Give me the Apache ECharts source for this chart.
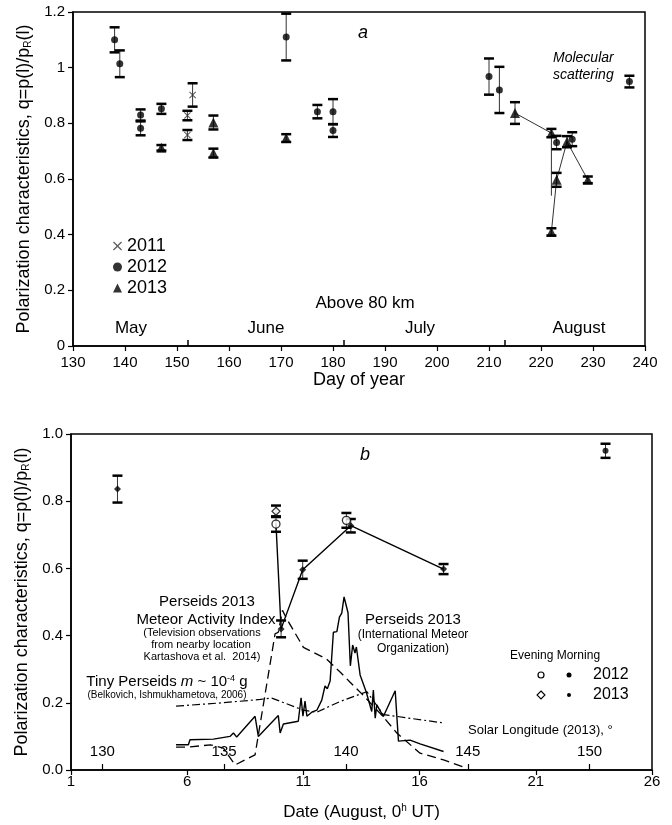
<!DOCTYPE html>
<html>
<head>
<meta charset="utf-8">
<script src="https://cdn.jsdelivr.net/npm/echarts@6/dist/echarts.min.js"></script>
<style>
html,body{margin:0;padding:0;background:#fff;}
#chart{width:672px;height:825px;}
</style>
</head>
<body>
<div id="chart"></div>
<script>
// ---------- Panel a: day of year ----------
const xTicksA = [130, 240, 10];
const monthTickDays = [152, 182, 213];
const days2011 = [152, 152, 153];
const q2011 = [0.828, 0.758, 0.902];
const err2011 = [0.017, 0.018, 0.042];

const days2012 = [138, 139, 143, 143, 147, 171, 177, 180, 180, 210, 212, 223, 226, 237];
const q2012 = [1.10, 1.014, 0.83, 0.782, 0.852, 1.11, 0.842, 0.842, 0.774, 0.968, 0.92, 0.731, 0.743, 0.95];
const err2012 = [0.045, 0.048, 0.02, 0.025, 0.018, 0.084, 0.024, 0.045, 0.023, 0.065, 0.083, 0.024, 0.025, 0.021];

const days2013 = [147, 157, 157, 171, 215, 222, 222, 223, 225, 229];
const q2013 = [0.712, 0.803, 0.693, 0.747, 0.837, 0.765, 0.410, 0.597, 0.734, 0.597];
const err2013 = [0.01, 0.025, 0.016, 0.014, 0.039, 0.015, 0.013, 0.025, 0.02, 0.012];

const trendADays = [215, 222, 222];
const trendAQ = [0.837, 0.765, 0.54];
const trendBDays = [222, 223, 225, 229];
const trendBQ = [0.41, 0.597, 0.734, 0.597];

// ---------- Panel b: date in August ----------
const dateTicks = [1, 6, 11, 16, 21, 26];
const solarTicks = [130, 135, 140, 145, 150];
const solarRange = [128.715, 152.56];

const eve2012Date = [9.82, 12.85];
const eve2012Q = [0.732, 0.743];
const eve2012Err = [0.023, 0.022];
const eve2013Date = [9.82];
const eve2013Q = [0.770];
const eve2013Err = [0.017];
const morn2012Date = [24.0];
const morn2012Q = [0.95];
const morn2012Err = [0.021];
const morn2013Date = [3.0, 10.04, 10.97, 13.04, 17.03];
const morn2013Q = [0.836, 0.42, 0.596, 0.727, 0.598];
const morn2013Err = [0.04, 0.025, 0.027, 0.02, 0.015];

const trendBotDate = [9.82, 10.04, 10.97, 13.04, 17.03];
const trendBotQ = [0.732, 0.42, 0.596, 0.727, 0.598];

const imoDate = [5.52,6.05,6.12,7.13,7.84,7.99,8.13,8.92,9.06,9.92,10.0,10.14,10.78,10.90,10.98,11.07,11.15,11.36,11.58,11.79,11.93,12.03,12.15,12.29,12.44,12.55,12.65,12.75,12.92,13.02,13.12,13.22,13.28,13.44,13.70,13.94,14.01,14.09,14.16,14.44,14.95,15.09,15.59,16.02,17.03];
const imoQ = [0.075,0.075,0.090,0.092,0.100,0.110,0.098,0.160,0.100,0.162,0.110,0.137,0.145,0.215,0.160,0.205,0.160,0.172,0.178,0.208,0.250,0.242,0.265,0.410,0.412,0.455,0.467,0.515,0.468,0.310,0.372,0.348,0.366,0.283,0.233,0.174,0.238,0.154,0.194,0.159,0.236,0.086,0.089,0.078,0.055];

const tvDate = [5.52, 6.05, 7.0, 7.56, 8.06, 8.92, 9.78, 9.92, 10.1, 10.28, 11.0, 12.0, 12.6, 13.0, 13.58, 14.44, 15.02, 16.02, 17.03, 18.03];
const tvQ = [0.068, 0.068, 0.075, 0.065, 0.015, 0.045, 0.405, 0.41, 0.475, 0.45, 0.365, 0.33, 0.29, 0.262, 0.222, 0.158, 0.11, 0.05, 0.03, 0.005];

const tinyDate = [5.52, 7.5, 9.14, 9.64, 11.0, 11.58, 12.58, 13.73, 14.44, 17.03];
const tinyQ = [0.19, 0.20, 0.21, 0.214, 0.178, 0.172, 0.204, 0.233, 0.165, 0.14];

// ---------- helpers ----------
const FONT = "'Liberation Sans', Arial, sans-serif";
const zip = (a, b) => a.map((v, i) => [v, b[i]]);
const zip3 = (a, b, c) => a.map((v, i) => [v, b[i], c[i]]);
const X_PATH = 'path://M0,1L1,0L5,4L9,0L10,1L6,5L10,9L9,10L5,6L1,10L0,9L4,5Z';

function errRender(params, api) {
  const x = api.value(0), y = api.value(1), e = api.value(2);
  const t = api.coord([x, y + e]);
  const b = api.coord([x, y - e]);
  const hw = 5;
  return {
    type: 'group',
    children: [
      {type: 'line', shape: {x1: t[0], y1: t[1], x2: b[0], y2: b[1]}, style: {stroke: '#333', lineWidth: 1}},
      {type: 'line', shape: {x1: t[0] - hw, y1: t[1], x2: t[0] + hw, y2: t[1]}, style: {stroke: '#000', lineWidth: 2.5}},
      {type: 'line', shape: {x1: b[0] - hw, y1: b[1], x2: b[0] + hw, y2: b[1]}, style: {stroke: '#000', lineWidth: 2.5}}
    ]
  };
}
function errSeries(data, xi, yi) {
  return {type: 'custom', xAxisIndex: xi, yAxisIndex: yi, renderItem: errRender, data: data,
    encode: {x: 0, y: 1}, silent: true, z: 3, clip: false};
}
function lineSeries(data, xi, yi, type, width, color) {
  return {type: 'line', xAxisIndex: xi, yAxisIndex: yi, data: data, showSymbol: false, symbol: 'none',
    lineStyle: {color: color || '#000', width: width, type: type}, z: 2, silent: true, animation: false};
}

const chart = echarts.init(document.getElementById('chart'), null, {renderer: 'canvas'});
const axisLine = {show: true, lineStyle: {color: '#000', width: 1.5}};
const tickOut = {show: true, inside: false, length: 5, lineStyle: {color: '#000', width: 1.2}};
const lblStyle = {color: '#000', fontSize: 15, fontFamily: FONT};
const yName = 'Polarization characteristics, q=p(l)/p{sub|R}(l)';
const yNameStyle = {fontSize: 18, color: '#000', fontFamily: FONT,
  rich: {sub: {fontSize: 10, color: '#000', fontFamily: FONT, verticalAlign: 'bottom', padding: [6, 0, 0, 0]}}};

const option = {
  animation: false,
  backgroundColor: '#fff',
  textStyle: {fontFamily: FONT, color: '#000'},
  grid: [
    {left: 73, right: 27, top: 12, height: 334, show: true, borderColor: '#000', borderWidth: 1.5, backgroundColor: 'transparent'},
    {left: 71, right: 20, top: 434, height: 336, show: true, borderColor: '#000', borderWidth: 1.5, backgroundColor: 'transparent'}
  ],
  xAxis: [
    {type: 'value', gridIndex: 0, min: xTicksA[0], max: xTicksA[1], interval: xTicksA[2],
      axisLine: axisLine, axisTick: tickOut, splitLine: {show: false},
      axisLabel: Object.assign({margin: 9}, lblStyle),
      name: 'Day of year', nameLocation: 'middle', nameGap: 25,
      nameTextStyle: {fontSize: 18, color: '#000', fontFamily: FONT}},
    {type: 'value', gridIndex: 0, min: xTicksA[0], max: xTicksA[1], position: 'bottom',
      axisLine: {show: false}, splitLine: {show: false},
      axisTick: {show: true, inside: true, length: 6, customValues: monthTickDays, lineStyle: {color: '#000', width: 1.5}},
      axisLabel: {show: false}},
    {type: 'value', gridIndex: 1, min: dateTicks[0], max: dateTicks[dateTicks.length - 1],
      axisLine: axisLine, splitLine: {show: false},
      axisTick: Object.assign({customValues: dateTicks}, tickOut),
      axisLabel: Object.assign({margin: 4, customValues: dateTicks}, lblStyle),
      name: 'Date (August, 0{sup|h} UT)', nameLocation: 'middle', nameGap: 33,
      nameTextStyle: {fontSize: 17, color: '#000', fontFamily: FONT,
        rich: {sup: {fontSize: 10, verticalAlign: 'top', padding: [0, 0, 8, 0], color: '#000', fontFamily: FONT}}}},
    {type: 'value', gridIndex: 1, min: solarRange[0], max: solarRange[1], position: 'bottom',
      axisLine: {show: false}, splitLine: {show: false},
      axisTick: {show: true, inside: true, length: 6, customValues: solarTicks, lineStyle: {color: '#000', width: 1.2}},
      axisLabel: Object.assign({inside: true, margin: 11, customValues: solarTicks}, lblStyle)}
  ],
  yAxis: [
    {type: 'value', gridIndex: 0, min: 0, max: 1.2, interval: 0.2,
      axisLine: axisLine, axisTick: tickOut, splitLine: {show: false},
      axisLabel: Object.assign({margin: 8}, lblStyle),
      name: yName, nameLocation: 'middle', nameGap: 40, nameTextStyle: yNameStyle},
    {type: 'value', gridIndex: 1, min: 0, max: 1.0, interval: 0.2,
      axisLine: axisLine, axisTick: tickOut, splitLine: {show: false},
      axisLabel: Object.assign({margin: 8, formatter: v => v.toFixed(1)}, lblStyle),
      name: yName, nameLocation: 'middle', nameGap: 39, nameTextStyle: yNameStyle}
  ],
  legend: {
    orient: 'vertical', left: 108, top: 232, itemWidth: 9, itemHeight: 9, itemGap: 3,
    selectedMode: false,
    textStyle: {fontSize: 18, color: '#000', fontFamily: FONT},
    data: [
      {name: '2011', icon: X_PATH},
      {name: '2012', icon: 'circle'},
      {name: '2013', icon: 'triangle'}
    ]
  },
  series: [
    // panel a
    lineSeries(zip(trendADays, trendAQ), 0, 0, 'solid', 1, '#333'),
    lineSeries(zip(trendBDays, trendBQ), 0, 0, 'solid', 1, '#333'),
    errSeries(zip3(days2011, q2011, err2011), 0, 0),
    errSeries(zip3(days2012, q2012, err2012), 0, 0),
    errSeries(zip3(days2013, q2013, err2013), 0, 0),
    {name: '2011', type: 'scatter', xAxisIndex: 0, yAxisIndex: 0, data: zip(days2011, q2011),
      symbol: X_PATH, symbolSize: 7, itemStyle: {color: '#333'}, z: 5},
    {name: '2012', type: 'scatter', xAxisIndex: 0, yAxisIndex: 0, data: zip(days2012, q2012),
      symbol: 'circle', symbolSize: 7, itemStyle: {color: '#000'}, z: 5},
    {name: '2013', type: 'scatter', xAxisIndex: 0, yAxisIndex: 0, data: zip(days2013, q2013),
      symbol: 'triangle', symbolSize: 10, itemStyle: {color: '#000'}, z: 5},
    // panel b
    lineSeries(zip(imoDate, imoQ), 2, 1, 'solid', 1.4),
    lineSeries(zip(tvDate, tvQ), 2, 1, [9, 5], 1.3),
    lineSeries(zip(tinyDate, tinyQ), 2, 1, [8, 3, 2, 3], 1.2),
    lineSeries(zip(trendBotDate, trendBotQ), 2, 1, 'solid', 1.4),
    errSeries(zip3(eve2012Date, eve2012Q, eve2012Err), 2, 1),
    errSeries(zip3(eve2013Date, eve2013Q, eve2013Err), 2, 1),
    errSeries(zip3(morn2012Date, morn2012Q, morn2012Err), 2, 1),
    errSeries(zip3(morn2013Date, morn2013Q, morn2013Err), 2, 1),
    {name: 'Evening 2012', type: 'scatter', xAxisIndex: 2, yAxisIndex: 1, data: zip(eve2012Date, eve2012Q),
      symbol: 'circle', symbolSize: 8, itemStyle: {color: '#fff', borderColor: '#000', borderWidth: 1.3}, z: 5},
    {name: 'Evening 2013', type: 'scatter', xAxisIndex: 2, yAxisIndex: 1, data: zip(eve2013Date, eve2013Q),
      symbol: 'diamond', symbolSize: 8, itemStyle: {color: '#fff', borderColor: '#000', borderWidth: 1.2}, z: 5},
    {name: 'Morning 2012', type: 'scatter', xAxisIndex: 2, yAxisIndex: 1, data: zip(morn2012Date, morn2012Q),
      symbol: 'circle', symbolSize: 6, itemStyle: {color: '#000'}, z: 5},
    {name: 'Morning 2013', type: 'scatter', xAxisIndex: 2, yAxisIndex: 1, data: zip(morn2013Date, morn2013Q),
      symbol: 'diamond', symbolSize: 7, itemStyle: {color: '#000'}, z: 5}
  ],
  graphic: [
    {type: 'text', x: 363, y: 33, style: {text: 'a', fontSize: 18, fontStyle: 'italic', fontFamily: FONT, fill: '#000', align: 'center', verticalAlign: 'middle'}},
    {type: 'text', x: 553, y: 58, style: {text: 'Molecular', fontSize: 14, fontStyle: 'italic', fontFamily: FONT, fill: '#000', align: 'left', verticalAlign: 'middle'}},
    {type: 'text', x: 553, y: 75, style: {text: 'scattering', fontSize: 14, fontStyle: 'italic', fontFamily: FONT, fill: '#000', align: 'left', verticalAlign: 'middle'}},
    {type: 'text', x: 365, y: 303, style: {text: 'Above 80 km', fontSize: 17, fontFamily: FONT, fill: '#000', align: 'center', verticalAlign: 'middle'}},
    {type: 'text', x: 131, y: 328, style: {text: 'May', fontSize: 17, fontFamily: FONT, fill: '#000', align: 'center', verticalAlign: 'middle'}},
    {type: 'text', x: 266, y: 328, style: {text: 'June', fontSize: 17, fontFamily: FONT, fill: '#000', align: 'center', verticalAlign: 'middle'}},
    {type: 'text', x: 420, y: 328, style: {text: 'July', fontSize: 17, fontFamily: FONT, fill: '#000', align: 'center', verticalAlign: 'middle'}},
    {type: 'text', x: 579, y: 328, style: {text: 'August', fontSize: 17, fontFamily: FONT, fill: '#000', align: 'center', verticalAlign: 'middle'}},

    {type: 'text', x: 365, y: 455, style: {text: 'b', fontSize: 18, fontStyle: 'italic', fontFamily: FONT, fill: '#000', align: 'center', verticalAlign: 'middle'}},
    {type: 'text', x: 207, y: 602, style: {text: 'Perseids 2013', fontSize: 15, fontFamily: FONT, fill: '#000', align: 'center', verticalAlign: 'middle'}},
    {type: 'text', x: 206, y: 620, style: {text: 'Meteor Activity Index', fontSize: 15, fontFamily: FONT, fill: '#000', align: 'center', verticalAlign: 'middle'}},
    {type: 'text', x: 202, y: 633, style: {text: '(Television observations', fontSize: 11, fontFamily: FONT, fill: '#000', align: 'center', verticalAlign: 'middle'}},
    {type: 'text', x: 201, y: 645, style: {text: 'from nearby location', fontSize: 11, fontFamily: FONT, fill: '#000', align: 'center', verticalAlign: 'middle'}},
    {type: 'text', x: 202, y: 657, style: {text: 'Kartashova et al.  2014)', fontSize: 11, fontFamily: FONT, fill: '#000', align: 'center', verticalAlign: 'middle'}},
    {type: 'text', x: 167, y: 682, style: {text: 'Tiny Perseids {i|m} ~ 10{sup|-4} g', fontSize: 15, fontFamily: FONT, fill: '#000', align: 'center', verticalAlign: 'middle',
      rich: {i: {fontSize: 15, fontStyle: 'italic', fontFamily: FONT, fill: '#000'}, sup: {fontSize: 9, fontFamily: FONT, fill: '#000', verticalAlign: 'top', padding: [0, 0, 6, 0]}}}},
    {type: 'text', x: 167, y: 695, style: {text: '(Belkovich, Ishmukhametova, 2006)', fontSize: 10, fontFamily: FONT, fill: '#000', align: 'center', verticalAlign: 'middle'}},
    {type: 'text', x: 413, y: 620, style: {text: 'Perseids 2013', fontSize: 15, fontFamily: FONT, fill: '#000', align: 'center', verticalAlign: 'middle'}},
    {type: 'text', x: 413, y: 635, style: {text: '(International Meteor', fontSize: 12, fontFamily: FONT, fill: '#000', align: 'center', verticalAlign: 'middle'}},
    {type: 'text', x: 413, y: 649, style: {text: 'Organization)', fontSize: 12, fontFamily: FONT, fill: '#000', align: 'center', verticalAlign: 'middle'}},
    {type: 'text', x: 510, y: 656, style: {text: 'Evening Morning', fontSize: 12, fontFamily: FONT, fill: '#000', align: 'left', verticalAlign: 'middle'}},
    {type: 'circle', shape: {cx: 541, cy: 675, r: 3}, style: {fill: '#fff', stroke: '#000', lineWidth: 1.2}},
    {type: 'circle', shape: {cx: 569, cy: 675, r: 2.5}, style: {fill: '#000'}},
    {type: 'text', x: 593, y: 675, style: {text: '2012', fontSize: 16, fontFamily: FONT, fill: '#000', align: 'left', verticalAlign: 'middle'}},
    {type: 'polygon', shape: {points: [[541, 691], [545, 695], [541, 699], [537, 695]]}, style: {fill: '#fff', stroke: '#000', lineWidth: 1.1}},
    {type: 'circle', shape: {cx: 569, cy: 695, r: 2}, style: {fill: '#000'}},
    {type: 'text', x: 593, y: 695, style: {text: '2013', fontSize: 16, fontFamily: FONT, fill: '#000', align: 'left', verticalAlign: 'middle'}},
    {type: 'text', x: 468, y: 730, style: {text: 'Solar Longitude (2013), °', fontSize: 13, fontFamily: FONT, fill: '#000', align: 'left', verticalAlign: 'middle'}}
  ]
};
chart.setOption(option);
</script>
</body>
</html>
